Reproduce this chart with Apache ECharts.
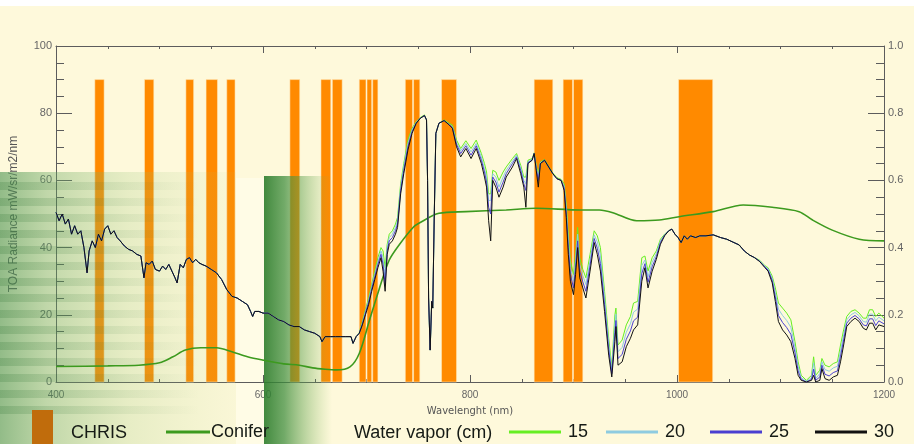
<!DOCTYPE html>
<html>
<head>
<meta charset="utf-8">
<title>CHRIS bands - TOA radiance</title>
<script src="https://cdn.jsdelivr.net/npm/echarts@6/dist/echarts.min.js"></script>
<style>
  html, body { margin: 0; padding: 0; background: #fff; }
  #main { width: 914px; height: 444px; }
</style>
</head>
<body>
<div id="main"></div>
<script>
// CHRIS band limits (nm), bar height on the radiance axis
var bandStart = [437.5, 485.5, 525.5, 545, 565, 626, 656, 667, 693, 700.5, 706, 737.5, 745.5, 772.5, 862, 890, 900, 1001.5];
var bandEnd   = [446.5, 494.5, 533, 556, 573, 635.5, 665.5, 676.5, 699.5, 705, 711, 744.5, 751.5, 787, 880, 899, 909, 1034.5];
var bandTop = 90;

// wavelength grid of the radiance curves (nm)
var wl = [
  400,403,406,409,412,415,418,421,424,427,430,432,435,438,441,444,447,450,453,456,459,462,466,470,474,478,482,485,487,490,
  493,496,500,503,506,509,512,515,517,520,523,526,529,532,535,538,541,545,550,555,560,565,570,575,580,585,588,590,592,596,
  600,605,610,615,620,625,630,635,640,645,650,655,657,660,665,670,675,680,685,687,690,
  693,696,699,702,705,708,711,714,716,718,720,722,725,728,730,733,736,740,744,748,752,756,758,
  759,760,761.5,763,764,765.5,767,770,775,780,783,787,791,796,801,806,811,
  814,816,818,820,822,825,828,832,835,841,845,849,852,854,856,860,862,864,866,868,872,876,880,884,888,
  891,893,895,897,900,902,904,906,909,912,916,920,923,926,930,934,937,940,941,943,947,951,955,958,962,966,969,972,976,980,984,988,
  992,995,998,1001,1004,1007,1010,1013,1018,1022,1028,1035,1042,1048,1055,1060,1065,1070,1075,1080,1085,
  1088,1092,1095,1098,1102,1106,1110,1114,1117,1120,1125,1130,1132,1134,1138,1140,1143,1147,1151,1155,1158,1161,1164,1168,1172,1176,1180,1183,1186,1189,1192,1195,1200
];

// 400-690 nm: the four water vapour curves are the same
var radVis = [
  50.5,48,50,47,48.5,44,46.5,44,45,40,32.5,39,42,40,44,42,45.5,46.5,44,45,43,42,40.5,39.5,39,38,37.5,31,35.5,35,
  36,33.5,33,34.5,33.5,35,33,31,29.5,35,34,36.5,37,35.5,36.5,35.5,35,34.5,33.5,32.5,30.5,27.5,25.5,25,24,23,21,19.5,21,21,
  20.5,20.5,19.5,18.5,18,17,16.5,16.5,15.5,15,14.5,13.5,12,13.5,13.5,13.5,13.5,13.5,13.5,11.5,13.5
];

// 693-1200 nm, one list per water vapour amount
var rad15 = [
  14.7,18,21.5,25,29,33,37,40,39,34,41,44,45,47,49,59,65,72,75.5,77.5,78.7,79.5,78,
  60,25,9.5,24,22,50,74,77,78,77,76.5,72,69.5,71.8,69.5,72,68,
  65,62.5,56,56,63,62.5,60,62.5,64,66.5,68,64.5,61,61,66,66.5,68.2,64.5,62,65.5,66.2,64.2,62.2,60.8,60.3,
  59,53,44,36,32,38,46,37,33.5,31,38,45,43.5,40,27,13,4.5,20,22,11,12.5,17,19.5,23.5,24,37,37.5,33,37,39,42.5,44,
  45,45.5,44,43,41.5,43.5,42.5,43.5,43,43.5,43.5,43.8,43,42.5,41.5,40.8,39,37.8,37,36.2,34.6,
  34,31.5,28,23.5,22,20.5,18.5,12,6,2,0.5,2,7.5,2,3.5,7,5,4.5,5.5,6,11,15.5,19.5,21,21.5,20.5,19,19,21.5,21.5,19.5,20.5,19
];
var rad20 = [
  14.5,17.5,21,24.2,28.3,32,35.8,39,37,31,40,43,44,46,48,58,64,71,75,77.3,78.5,79.3,78,
  60,25,9.5,24,22,50,74,77,77.8,76.7,76,71.3,68.8,71,68.5,71,67,
  63.5,61,54,54,62,61,58,61,63,65.7,67.5,63.7,60,59,65.5,66.3,68,64,61,65.3,66,64,62,60.5,60,
  58.3,51.7,42,34,30,36,44,35,31.7,29,36.3,43.8,41.7,37.7,25,11.3,3.5,17.3,20.2,9,10.3,14.8,17.3,20.8,21.7,34.7,36.3,31.3,35.7,38.2,42,43.8,
  45,45.5,44,43,41.5,43.5,42.5,43.5,43,43.5,43.5,43.8,43,42.5,41.5,40.8,39,37.8,37,36,34.4,
  33.7,30.8,26.7,21.7,19.8,18.3,16.3,10.3,4.7,1.3,0.2,1.3,5.7,1,2.5,6,3.7,3.2,4.2,4.7,9.3,14,18.5,20,20.7,19.7,18,17.8,20.2,20.2,18.2,19.3,18.2
];
var rad25 = [
  14.5,17.3,20.5,23.7,27.7,31.3,35,38,35,29,39,42,43,45,47,57,63,70,74.5,77,78.5,79.3,78,
  60,25,9.5,24,22,50,74,77,77.8,76.5,75.7,70.7,68,70.3,67.5,70.3,66,
  62.5,59.5,52,50,61,59.5,56.5,59.5,62,65,67,63,59,57,65.3,66,68,63.5,60,65,66,64,62,60.5,60,
  57.7,50.3,40,32,28,34,42,33,29.8,27,34.7,42.7,39.8,35.3,23,9.7,2.5,14.7,18.3,7,8.2,12.7,15.2,18.2,19.3,32.3,35.2,29.7,34.3,37.3,41.5,43.7,
  45,45.5,44,43,41.5,43.5,42.5,43.5,43,43.5,43.5,43.8,43,42.5,41.5,40.8,39,37.8,37,35.9,34.2,
  33.3,30.2,25.3,19.8,17.7,16.2,14.2,8.7,3.3,0.8,0,0.8,3.8,0.5,1.5,5,2.3,1.8,2.8,3.3,7.7,12.5,17.5,19,19.8,18.8,17,16.7,18.8,18.8,16.8,18.2,17.3
];
var rad30 = [
  14.5,17,20,23,27,30.5,34,37,33,27,38,41,42,44,46,56,62,69,74,77,78.5,79.3,78,
  60,25,9.5,24,22,50,74,77,77.8,76.5,75.5,70,67,69.5,66.5,69.5,65,
  61,58,48,42,60,58,55,58,61,64,66.5,62,58,52,65,66,68,63,58,65,66,64,62,60.5,60,
  57,49,38,30,26,32,40,31,28,25,33,41.5,38,33,21,8,1.5,12,16.5,5,6,10.5,13,15.5,17,30,34,28,33,36.5,41,43.5,
  45,45.5,44,43,41.5,43.5,42.5,43.5,43,43.5,43.5,43.8,43,42.5,41.5,40.8,39,37.8,37,35.8,34,
  33,29.5,24,18,15.5,14,12,7,2,0.5,0,0.5,2,0,0.5,4,1,0.5,1.5,2,6,11,16.5,18,19,18,16,15.5,17.5,17.5,15.5,17,16.5
];

// conifer ground reflectance (right axis)
var coniferWl  = [400,450,480,500,513,525,540,555,570,585,600,620,635,648,660,671,684,693,703,712,722,732,745,751,770,796,835,864,906,925,938,961,983,1002,1035,1064,1092,1118,1131,1150,1176,1200];
var coniferRef = [0.046,0.048,0.05,0.057,0.075,0.095,0.102,0.102,0.09,0.075,0.065,0.054,0.05,0.042,0.038,0.036,0.045,0.085,0.185,0.274,0.363,0.41,0.46,0.473,0.502,0.507,0.512,0.517,0.512,0.512,0.504,0.48,0.482,0.492,0.507,0.527,0.52,0.507,0.482,0.452,0.425,0.42];

var vaporNames = ["15", "20", "25", "30"];
var vaporColors = ["#66ee22", "#8ecbe0", "#4a3fd0", "#111111"];
var vaporLegendLeft = [509, 606, 710, 815];

var myChart = echarts.init(document.getElementById("main"));
var axisGray = "#5c5c5c";
var legendFont = { fontSize: 18, color: "#151a15", fontFamily: "Liberation Sans" };

function pairs(xs, ys) {
  return xs.map(function (x, i) {
    return [x, ys[i]];
  });
}

function xAxisOf(pos, withLabels) {
  return {
    type: "value",
    position: pos,
    min: 400,
    max: 1200,
    interval: 200,
    name: withLabels ? "Wavelenght (nm)" : "",
    nameLocation: "middle",
    nameGap: 24,
    nameTextStyle: { fontSize: 10, color: "#555", fontFamily: "DejaVu Sans" },
    axisLine: { onZero: false, lineStyle: { color: axisGray } },
    axisTick: { inside: true, length: 7, lineStyle: { color: axisGray } },
    minorTick: { show: true, splitNumber: 4, length: 3, lineStyle: { color: axisGray } },
    axisLabel: {
      show: withLabels,
      fontSize: 10,
      color: "#666",
      margin: 8,
      formatter: function (v) {
        return String(v);
      },
    },
    splitLine: { show: false },
  };
}

function yAxisOf(pos, max, interval, title, fmt) {
  return {
    type: "value",
    position: pos,
    min: 0,
    max: max,
    interval: interval,
    name: title,
    nameLocation: "middle",
    nameRotate: 90,
    nameGap: pos == "left" ? 36 : 28,
    nameTextStyle: { fontSize: pos == "left" ? 12 : 11, color: "#555" },
    axisLine: { show: true, onZero: false, lineStyle: { color: axisGray } },
    axisTick: { inside: true, length: 16, lineStyle: { color: axisGray } },
    minorTick: { show: true, splitNumber: 4, length: 8, lineStyle: { color: axisGray } },
    axisLabel: { fontSize: 11, color: "#666", margin: 4, formatter: fmt },
    splitLine: { show: false },
  };
}

//绿色的背景图案 (bars < overlay < lines)
function overlay() {
  var g = [
    { type: "rect", left: 0, top: 0, shape: { width: 914, height: 6 }, style: { fill: "#ffffff" }, z: 0 },
    {
      type: "rect", left: 236, top: 178, silent: true, z: 0,
      shape: { width: 28, height: 266 },
      style: { fill: "rgba(255,253,235,0.7)" },
    },
    {
      type: "rect", left: 0, top: 172, silent: true, z: 2,
      shape: { width: 236, height: 272 },
      style: {
        fill: new echarts.graphic.LinearGradient(0, 0, 1, 0, [
          { offset: 0, color: "rgba(80,150,85,0.62)" },
          { offset: 0.2, color: "rgba(100,165,95,0.4)" },
          { offset: 0.55, color: "rgba(140,190,110,0.2)" },
          { offset: 1, color: "rgba(170,205,130,0.05)" },
        ]),
      },
    },
    {
      type: "rect", left: 264, top: 176, silent: true, z: 2,
      shape: { width: 68, height: 268 },
      style: {
        fill: new echarts.graphic.LinearGradient(0, 0, 1, 0, [
          { offset: 0, color: "rgba(45,125,45,0.9)" },
          { offset: 0.3, color: "rgba(60,140,60,0.72)" },
          { offset: 1, color: "rgba(130,185,95,0)" },
        ]),
      },
    },
  ];
  for (var k = 0; k < 15; k++) {
    g.push({
      type: "rect", left: 0, top: 182 + k * 16, silent: true, z: 2,
      shape: { width: 200, height: 8 },
      style: {
        fill: new echarts.graphic.LinearGradient(0, 0, 1, 0, [
          { offset: 0, color: "rgba(40,110,45,0.2)" },
          { offset: 1, color: "rgba(40,110,45,0)" },
        ]),
      },
    });
  }
  g.push({
    type: "text", left: 354, top: 424, z: 10,
    style: { text: "Water vapor (cm)", fontSize: legendFont.fontSize, fill: legendFont.color, fontFamily: legendFont.fontFamily },
  });
  return g;
}

var series = [
  {
    name: "CHRIS",
    type: "custom",
    xAxisIndex: 0,
    yAxisIndex: 0,
    itemStyle: { color: "#ff8a00" },
    encode: { x: [0, 1], y: 2 },
    data: bandStart.map(function (s, i) {
      return [s, bandEnd[i], bandTop];
    }),
    renderItem: function (params, api) {
      var p0 = api.coord([api.value(0), api.value(2)]);
      var p1 = api.coord([api.value(1), 0]);
      return {
        type: "rect",
        shape: { x: p0[0], y: p0[1], width: p1[0] - p0[0], height: p1[1] - p0[1] },
        style: { fill: api.visual("color"), stroke: "rgba(255,235,190,0.9)", lineWidth: 0.6 },
      };
    },
    z: 1,
  },
  {
    name: "Conifer",
    type: "line",
    xAxisIndex: 0,
    yAxisIndex: 1,
    smooth: 0.3,
    showSymbol: false,
    lineStyle: { color: "#3c9a1e", width: 1.6 },
    itemStyle: { color: "#3c9a1e" },
    data: pairs(coniferWl, coniferRef),
    z: 3,
  },
];
[rad15, rad20, rad25, rad30].forEach(function (tail, i) {
  series.push({
    name: vaporNames[i],
    type: "line",
    xAxisIndex: 0,
    yAxisIndex: 0,
    showSymbol: false,
    lineStyle: { color: vaporColors[i], width: 1 },
    itemStyle: { color: vaporColors[i] },
    data: pairs(wl, radVis.concat(tail)),
    z: 4 + i,
  });
});

function legendOf(name, left, top, w, h, pad) {
  return {
    data: [name],
    left: left,
    top: top,
    padding: 0,
    z: 10,
    icon: "rect",
    itemWidth: w,
    itemHeight: h,
    selectedMode: false,
    textStyle: Object.assign({ padding: [0, 0, 0, pad] }, legendFont),
  };
}

var chrisLegend = legendOf("CHRIS", 32, 410, 21, 46, 13);
chrisLegend.itemStyle = { color: "#c06c0c" };
var legends = [chrisLegend, legendOf("Conifer", 166, 423, 44, 3, -4)];
vaporNames.forEach(function (n, i) {
  legends.push(legendOf(n, vaporLegendLeft[i], 423, 52, 3, 2));
});

option = {
  backgroundColor: "#fef9db",
  animation: false,
  textStyle: { fontFamily: "Liberation Sans" },
  grid: { left: 56, right: 30, top: 46, bottom: 62, outerBoundsMode: "none", containLabel: false },
  xAxis: [xAxisOf("bottom", true), xAxisOf("top", false)],
  yAxis: [
    yAxisOf("left", 100, 20, "TOA Radiance mW/sr/m2/nm", null),
    yAxisOf("right", 1, 0.2, "Ground Reflectance", function (v) {
      return v.toFixed(1);
    }),
  ],
  legend: legends,
  graphic: overlay(),
  series: series,
};
option && myChart.setOption(option);
</script>
</body>
</html>
